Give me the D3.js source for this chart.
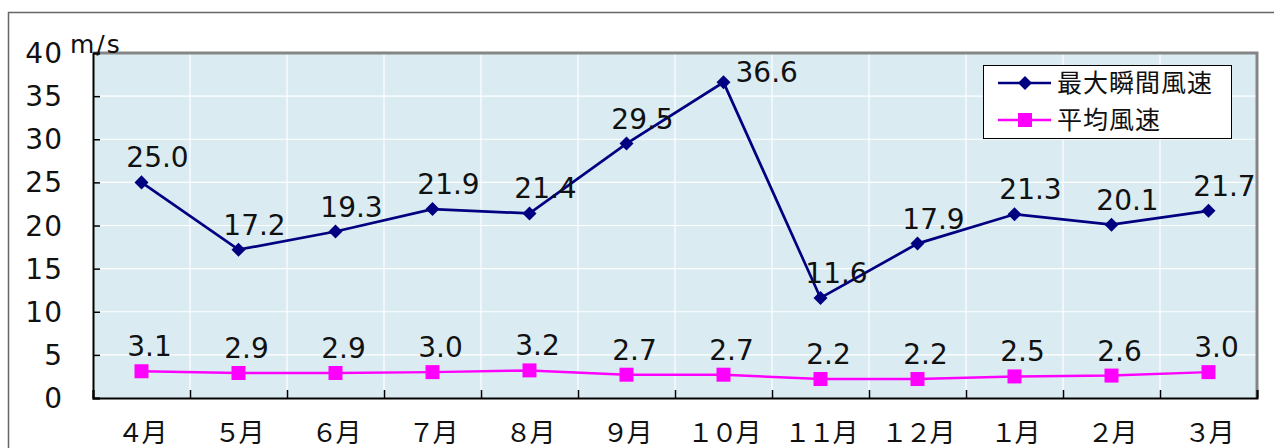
<!DOCTYPE html>
<html>
<head>
<meta charset="utf-8">
<script src="https://cdn.jsdelivr.net/npm/d3@7/dist/d3.min.js"></script>
<style>
  body { margin: 0; background: #fff; }
  text { font-family: "DejaVu Sans", sans-serif; fill: #111; }
  .jp { font-family: "Noto Sans CJK JP", sans-serif; }
</style>
</head>
<body>
<div id="chart"></div>
<script>
// data
var months = ["４月", "５月", "６月", "７月", "８月", "９月", "１０月", "１１月", "１２月", "１月", "２月", "３月"];
var maxGust = [25.0, 17.2, 19.3, 21.9, 21.4, 29.5, 36.6, 11.6, 17.9, 21.3, 20.1, 21.7];
var avgWind = [3.1, 2.9, 2.9, 3.0, 3.2, 2.7, 2.7, 2.2, 2.2, 2.5, 2.6, 3.0];
var yTicks = [0, 5, 10, 15, 20, 25, 30, 35, 40];
var seriesNames = ["最大瞬間風速", "平均風速"];

var W = 1274, H = 448;
var pL = 93, pR = 1257, pT = 53, pB = 398;

var svg = d3.select('#chart').append('svg')
    .attr('width', W)
    .attr('height', H);

// outer chart frame (runs off the picture on right/bottom)
svg.append('rect')
    .attr('x', 8.5).attr('y', 12.5)
    .attr('width', 1300).attr('height', 500)
    .attr('fill', 'none')
    .attr('stroke', '#666')
    .attr('stroke-width', 1.5);

var x = d3.scaleBand().domain(months).range([pL, pR]);
var y = d3.scaleLinear().domain([0, 40]).range([pB, pT]);

// plot background
svg.append('rect')
    .attr('x', pL).attr('y', pT)
    .attr('width', pR - pL).attr('height', pB - pT)
    .attr('fill', '#daecf2');

// horizontal grid
svg.append('g').selectAll('line')
    .data(yTicks.slice(1))
    .join('line')
    .attr('x1', pL).attr('x2', pR)
    .attr('y1', d => y(d)).attr('y2', d => y(d))
    .attr('stroke', '#fff').attr('stroke-width', 1.2);

// vertical grid at category boundaries
svg.append('g').selectAll('line')
    .data(months.slice(1))
    .join('line')
    .attr('x1', d => x(d)).attr('x2', d => x(d))
    .attr('y1', pT).attr('y2', pB)
    .attr('stroke', '#fff').attr('stroke-width', 1.2);

// gray border top + right
svg.append('path')
    .attr('d', 'M' + pL + ',' + pT + 'H' + pR + 'V' + pB)
    .attr('fill', 'none')
    .attr('stroke', '#858585')
    .attr('stroke-width', 3);

// y axis
var yAxis = svg.append('g')
    .attr('transform', 'translate(' + pL + ',0)')
    .call(d3.axisRight(y).tickValues(yTicks).tickSize(7).tickFormat(''));
yAxis.select('.domain').attr('stroke', '#000').attr('stroke-width', 2);
yAxis.selectAll('.tick line').attr('stroke', '#000').attr('stroke-width', 1.5);

svg.append('g').selectAll('text')
    .data(yTicks)
    .join('text')
    .attr('x', 63)
    .attr('y', d => y(d))
    .attr('dy', '0.36em')
    .attr('text-anchor', 'end')
    .attr('font-size', 28)
    .attr('letter-spacing', 1)
    .text(d => d);

svg.append('text')
    .attr('x', 70).attr('y', 53)
    .attr('font-size', 25)
    .attr('letter-spacing', 2)
    .text('m/s');

// x axis: inside ticks at category boundaries
var xb = d3.scaleLinear().domain([0, months.length]).range([pL, pR]);
var xAxis = svg.append('g')
    .attr('transform', 'translate(0,' + pB + ')')
    .call(d3.axisTop(xb).ticks(months.length).tickSize(8).tickFormat(''));
xAxis.select('.domain').attr('stroke', '#000').attr('stroke-width', 2);
xAxis.selectAll('.tick line').attr('stroke', '#000').attr('stroke-width', 1.5);

svg.append('g').selectAll('text')
    .data(months)
    .join('text')
    .attr('class', 'jp')
    .attr('x', d => x(d) + x.bandwidth() / 2)
    .attr('y', 442)
    .attr('text-anchor', 'middle')
    .attr('font-size', 26)
    .attr('letter-spacing', -2)
    .text(d => d);

var cx = d => x(d) + x.bandwidth() / 2;
var line = d3.line().x((d, i) => cx(months[i])).y(d => y(d));

// average wind (pink)
svg.append('path')
    .datum(avgWind)
    .attr('d', line)
    .attr('fill', 'none')
    .attr('stroke', '#ff00ff')
    .attr('stroke-width', 2.5);
svg.append('g').selectAll('rect')
    .data(avgWind)
    .join('rect')
    .attr('x', (d, i) => cx(months[i]) - 7)
    .attr('y', d => y(d) - 7)
    .attr('width', 14).attr('height', 14)
    .attr('fill', '#ff00ff');

// max gust (navy)
svg.append('path')
    .datum(maxGust)
    .attr('d', line)
    .attr('fill', 'none')
    .attr('stroke', '#000080')
    .attr('stroke-width', 2.7);
svg.append('g').selectAll('path')
    .data(maxGust)
    .join('path')
    .attr('d', d3.symbol(d3.symbolDiamond2, 125))
    .attr('transform', (d, i) => 'translate(' + cx(months[i]) + ',' + y(d) + ')')
    .attr('fill', '#000080');

// value labels
svg.append('g').selectAll('text')
    .data(maxGust)
    .join('text')
    .attr('x', (d, i) => i === 6 ? cx(months[i]) + 12 : cx(months[i]) + 16)
    .attr('y', (d, i) => i === 6 ? y(d) : y(d) - 15)
    .attr('text-anchor', (d, i) => i === 6 ? 'start' : 'middle')
    .attr('font-size', 28)
    .text(d => d.toFixed(1));

svg.append('g').selectAll('text')
    .data(avgWind)
    .join('text')
    .attr('x', (d, i) => cx(months[i]) + 8)
    .attr('y', d => y(d) - 15)
    .attr('text-anchor', 'middle')
    .attr('font-size', 28)
    .text(d => d.toFixed(1));

// legend
var lg = svg.append('g').attr('transform', 'translate(983,65)');
lg.append('rect')
    .attr('x', 0.5).attr('y', 0.5)
    .attr('width', 248).attr('height', 73)
    .attr('fill', '#fff')
    .attr('stroke', '#000')
    .attr('stroke-width', 1);
var colors = ['#000080', '#ff00ff'];
seriesNames.forEach(function(name, i) {
    var ly = 18 + i * 37;
    lg.append('line')
        .attr('x1', 15).attr('x2', 68)
        .attr('y1', ly).attr('y2', ly)
        .attr('stroke', colors[i]).attr('stroke-width', 2.5);
    if (i === 0) {
        lg.append('path')
            .attr('d', d3.symbol(d3.symbolDiamond2, 125))
            .attr('transform', 'translate(42,' + ly + ')')
            .attr('fill', colors[i]);
    } else {
        lg.append('rect')
            .attr('x', 35).attr('y', ly - 7)
            .attr('width', 14).attr('height', 14)
            .attr('fill', colors[i]);
    }
    lg.append('text')
        .attr('class', 'jp')
        .attr('x', 74).attr('y', ly)
        .attr('dy', '0.36em')
        .attr('font-size', 25)
        .attr('letter-spacing', 1)
        .text(name);
});
</script>
</body>
</html>
